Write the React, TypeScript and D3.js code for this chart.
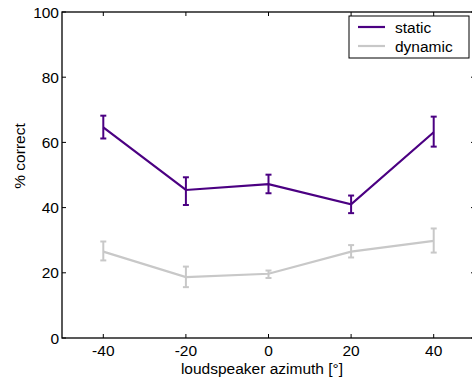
import React from 'react';
import { scaleLinear, line } from 'd3';

const azimuths = [-40, -20, 0, 20, 40];
const staticMean = [64.6, 45.4, 47.2, 41.0, 63.1];
const staticLow = [61.2, 40.8, 44.4, 38.3, 58.7];
const staticHigh = [68.2, 49.3, 50.1, 43.7, 67.9];
const dynamicMean = [26.5, 18.7, 19.7, 26.5, 29.8];
const dynamicLow = [23.8, 15.6, 18.4, 24.7, 26.2];
const dynamicHigh = [29.6, 21.9, 20.7, 28.5, 33.6];
const xTicks = [-40, -20, 0, 20, 40];
const yTicks = [0, 20, 40, 60, 80, 100];

const series = [
    { name: 'static', color: '#4b0082', mean: staticMean, low: staticLow, high: staticHigh },
    { name: 'dynamic', color: '#c8c8c8', mean: dynamicMean, low: dynamicLow, high: dynamicHigh },
];

const W = 472;
const H = 381;
const left = 62;
const right = 475;
const top = 12;
const bottom = 338;

export default function App() {
    const x = scaleLinear().domain([-50, 50]).range([left, right]);
    const y = scaleLinear().domain([0, 100]).range([bottom, top]);
    const tick = 4;
    const font = 'Liberation Sans, Arial, sans-serif';
    const fs = 15.5;

    return (
        <svg width={W} height={H} style={{ position: 'absolute', left: 0, top: 0 }} fontFamily={font}>
            <rect x={0} y={0} width={W} height={H} fill="#fff" />
            {series.map((s) => {
                const path = line<number>()
                    .x((_, i) => x(azimuths[i]))
                    .y((v) => y(v))(s.mean);
                return (
                    <g key={s.name}>
                        <path d={path || ''} fill="none" stroke={s.color} strokeWidth={2.2} />
                        {azimuths.map((a, i) => (
                            <g key={a} stroke={s.color} strokeWidth={2}>
                                <line x1={x(a)} x2={x(a)} y1={y(s.low[i])} y2={y(s.high[i])} />
                                <line x1={x(a) - 3} x2={x(a) + 3} y1={y(s.low[i])} y2={y(s.low[i])} />
                                <line x1={x(a) - 3} x2={x(a) + 3} y1={y(s.high[i])} y2={y(s.high[i])} />
                            </g>
                        ))}
                    </g>
                );
            })}
            <g stroke="#000" strokeWidth={1}>
                {xTicks.map((t) => (
                    <g key={t}>
                        <line x1={x(t)} x2={x(t)} y1={bottom} y2={bottom - tick} />
                        <line x1={x(t)} x2={x(t)} y1={top} y2={top + tick} />
                    </g>
                ))}
                {yTicks.map((t) => (
                    <g key={t}>
                        <line x1={left} x2={left + tick} y1={y(t)} y2={y(t)} />
                        <line x1={right} x2={right - tick} y1={y(t)} y2={y(t)} />
                    </g>
                ))}
            </g>
            <rect x={left} y={top} width={right - left} height={bottom - top} fill="none" stroke="#000" strokeWidth={1.3} />
            {xTicks.map((t) => (
                <text key={t} x={x(t)} y={356} textAnchor="middle" fontSize={fs}>
                    {t}
                </text>
            ))}
            {yTicks.map((t) => (
                <text key={t} x={left - 3} y={y(t) + 5.5} textAnchor="end" fontSize={fs}>
                    {t}
                </text>
            ))}
            <text x={262} y={374} textAnchor="middle" fontSize={fs}>
                loudspeaker azimuth [°]
            </text>
            <text transform="translate(25, 156) rotate(-90)" textAnchor="middle" fontSize={fs}>
                % correct
            </text>
            <g>
                <rect x={349} y={16} width={120} height={42} fill="#fff" stroke="#000" strokeWidth={1} />
                {series.map((s, i) => (
                    <g key={s.name}>
                        <line x1={358} x2={385} y1={27 + i * 19} y2={27 + i * 19} stroke={s.color} strokeWidth={2.2} />
                        <text x={395} y={32.5 + i * 19} fontSize={fs}>
                            {s.name}
                        </text>
                    </g>
                ))}
            </g>
        </svg>
    );
}
